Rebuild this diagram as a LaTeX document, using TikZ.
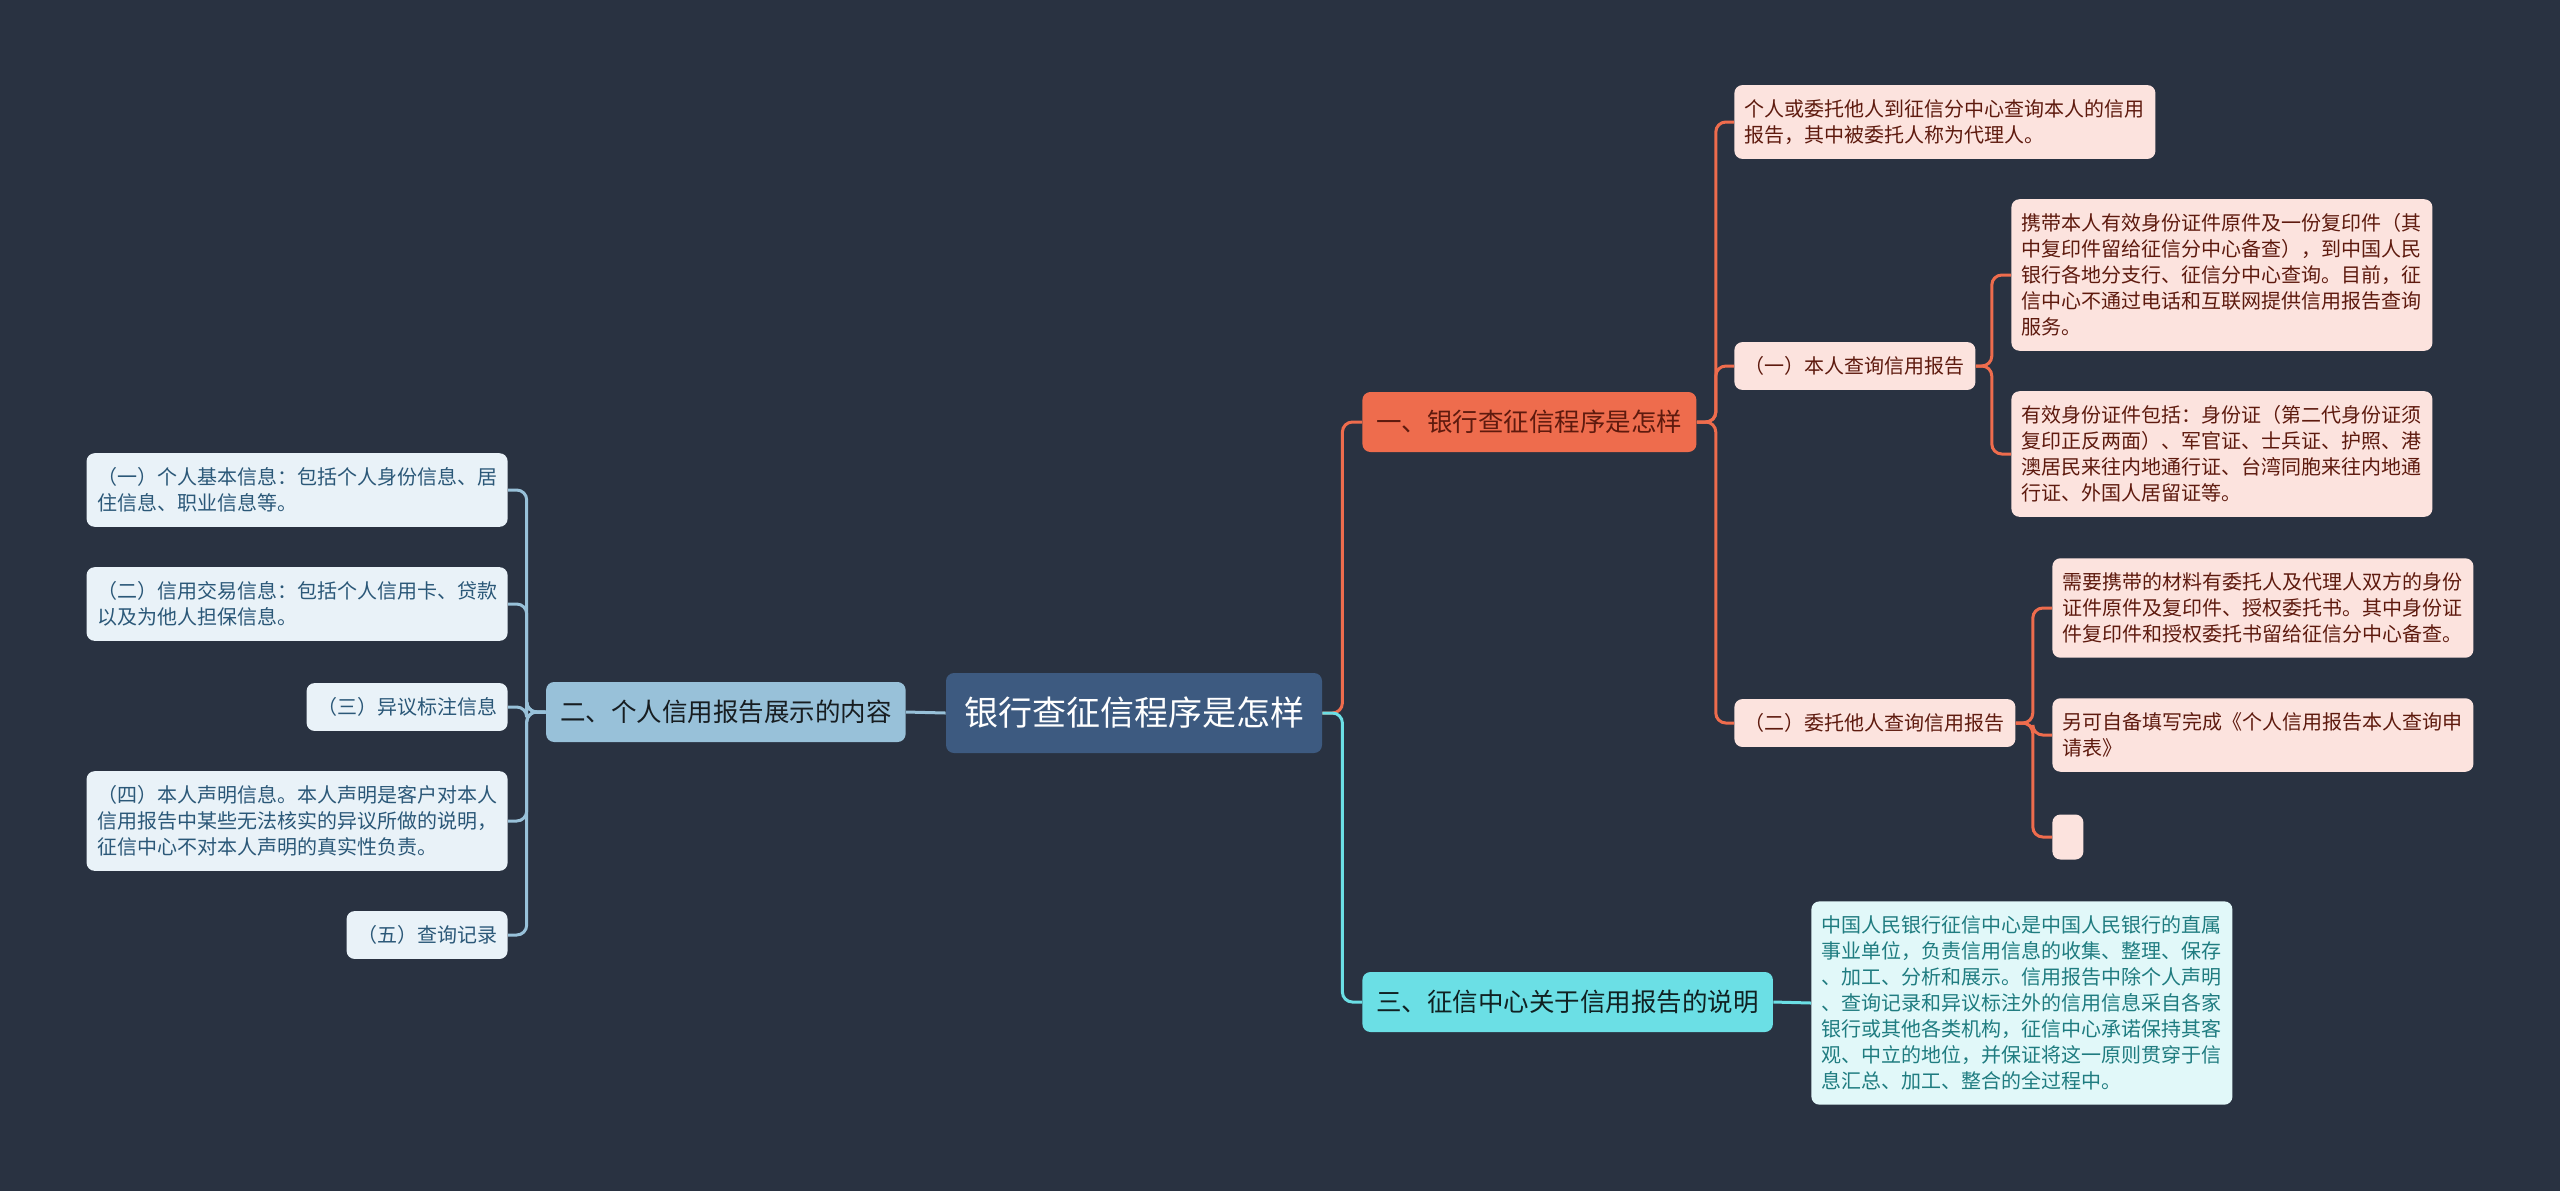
\documentclass[tikz,border=0pt]{standalone}
\usepackage{fontspec}
\setmainfont{Noto Sans CJK SC}
\definecolor{bgnavy}{HTML}{293241}
\definecolor{hubblue}{HTML}{3D5A80}
\definecolor{coral}{HTML}{EE6C4D}
\definecolor{coralpale}{HTML}{FCE3DE}
\definecolor{coraltext}{HTML}{5E1A0E}
\definecolor{skyblue}{HTML}{98C1D9}
\definecolor{skypale}{HTML}{E9F2F8}
\definecolor{skytext}{HTML}{2B5878}
\definecolor{aqua}{HTML}{6BDFE5}
\definecolor{aquapale}{HTML}{E1F8F9}
\definecolor{aquatext}{HTML}{1F7C80}
\begin{document}
\begin{tikzpicture}[
  x=0.5pt, y=-0.5pt,
  box/.style={rounded corners=4pt, align=left, inner xsep=5.25pt, inner ysep=7.2pt, minimum height=23pt, font=\fontsize{10}{13}\selectfont},
  hub/.style={box, fill=hubblue, text=white, inner xsep=9pt, minimum height=40pt, font=\fontsize{17}{20}\selectfont},
  topic/.style={box, inner xsep=7pt, minimum height=30pt, font=\fontsize{12.75}{15}\selectfont},
  redtopic/.style={topic, fill=coral, text=coraltext},
  bluetopic/.style={topic, fill=skyblue, text=black!85!skyblue},
  aquatopic/.style={topic, fill=aqua, text=black!85!aqua},
  redleaf/.style={box, fill=coralpale, text=coraltext},
  blueleaf/.style={box, fill=skypale, text=skytext},
  aqualeaf/.style={box, fill=aquapale, text=aquatext},
  link/.style={line width=1.5pt, rounded corners=5pt},
  redlink/.style={link, draw=coral},
  bluelink/.style={link, draw=skyblue},
  aqualink/.style={link, draw=aqua}
]
\fill[bgnavy] (0,0) rectangle (2560,1191);

% centre and main topics
\node[hub] (root) at (1134,713) {银行查征信程序是怎样};
\node[redtopic, anchor=west] (bank) at (1362,422) {一、银行查征信程序是怎样};
\node[bluetopic, anchor=east] (show) at (906,712) {二、个人信用报告展示的内容};
\node[aquatopic, anchor=west] (note) at (1362,1002) {三、征信中心关于信用报告的说明};

% branch one
\node[redleaf, anchor=west] (who) at (1734,122) {个人或委托他人到征信分中心查询本人的信用\\报告，其中被委托人称为代理人。};
\node[redleaf, anchor=west] (self) at (1734,366) {（一）本人查询信用报告};
\node[redleaf, anchor=west] (proxy) at (1734,723) {（二）委托他人查询信用报告};
\node[redleaf, anchor=west] (selfa) at (2011,275) {携带本人有效身份证件原件及一份复印件（其\\中复印件留给征信分中心备查），到中国人民\\银行各地分支行、征信分中心查询。目前，征\\信中心不通过电话和互联网提供信用报告查询\\服务。};
\node[redleaf, anchor=west] (selfb) at (2011,454) {有效身份证件包括：身份证（第二代身份证须\\复印正反两面）、军官证、士兵证、护照、港\\澳居民来往内地通行证、台湾同胞来往内地通\\行证、外国人居留证等。};
\node[redleaf, anchor=west] (proxya) at (2052,608) {需要携带的材料有委托人及代理人双方的身份\\证件原件及复印件、授权委托书。其中身份证\\件复印件和授权委托书留给征信分中心备查。};
\node[redleaf, anchor=west] (proxyb) at (2052,735) {另可自备填写完成《个人信用报告本人查询申\\请表》};
\node[redleaf, anchor=west, minimum width=15.5pt, minimum height=22.5pt, inner sep=0pt] (proxyc) at (2052,837) {};

% branch two
\node[blueleaf, anchor=east] (info1) at (508,490) {（一）个人基本信息：包括个人身份信息、居\\住信息、职业信息等。};
\node[blueleaf, anchor=east] (info2) at (508,604) {（二）信用交易信息：包括个人信用卡、贷款\\以及为他人担保信息。};
\node[blueleaf, anchor=east] (info3) at (508,707) {（三）异议标注信息};
\node[blueleaf, anchor=east] (info4) at (508,821) {（四）本人声明信息。本人声明是客户对本人\\信用报告中某些无法核实的异议所做的说明，\\征信中心不对本人声明的真实性负责。};
\node[blueleaf, anchor=east] (info5) at (508,935) {（五）查询记录};

% branch three
\node[aqualeaf, anchor=west] (centre) at (1811,1003) {中国人民银行征信中心是中国人民银行的直属\\事业单位，负责信用信息的收集、整理、保存\\、加工、分析和展示。信用报告中除个人声明\\、查询记录和异议标注外的信用信息采自各家\\银行或其他各类机构，征信中心承诺保持其客\\观、中立的地位，并保证将这一原则贯穿于信\\息汇总、加工、整合的全过程中。};

\draw[redlink] (root.east) -- ++(20,0) |- (bank.west);
\draw[aqualink] (root.east) -- ++(20,0) |- (note.west);
\draw[bluelink] (root.west) -- (show.east);

\foreach \kid in {who,self,proxy}
  \draw[redlink] (bank.east) -- ++(19,0) |- (\kid.west);
\foreach \kid in {selfa,selfb}
  \draw[redlink] (self.east) -- ++(16,0) |- (\kid.west);
\foreach \kid in {proxya,proxyb,proxyc}
  \draw[redlink] (proxy.east) -- ++(17,0) |- (\kid.west);
\foreach \kid in {info1,info2,info3,info4,info5}
  \draw[bluelink] (show.west) -- ++(-19,0) |- (\kid.east);
\draw[aqualink] (note.east) -- (centre.west);
\end{tikzpicture}
\end{document}
